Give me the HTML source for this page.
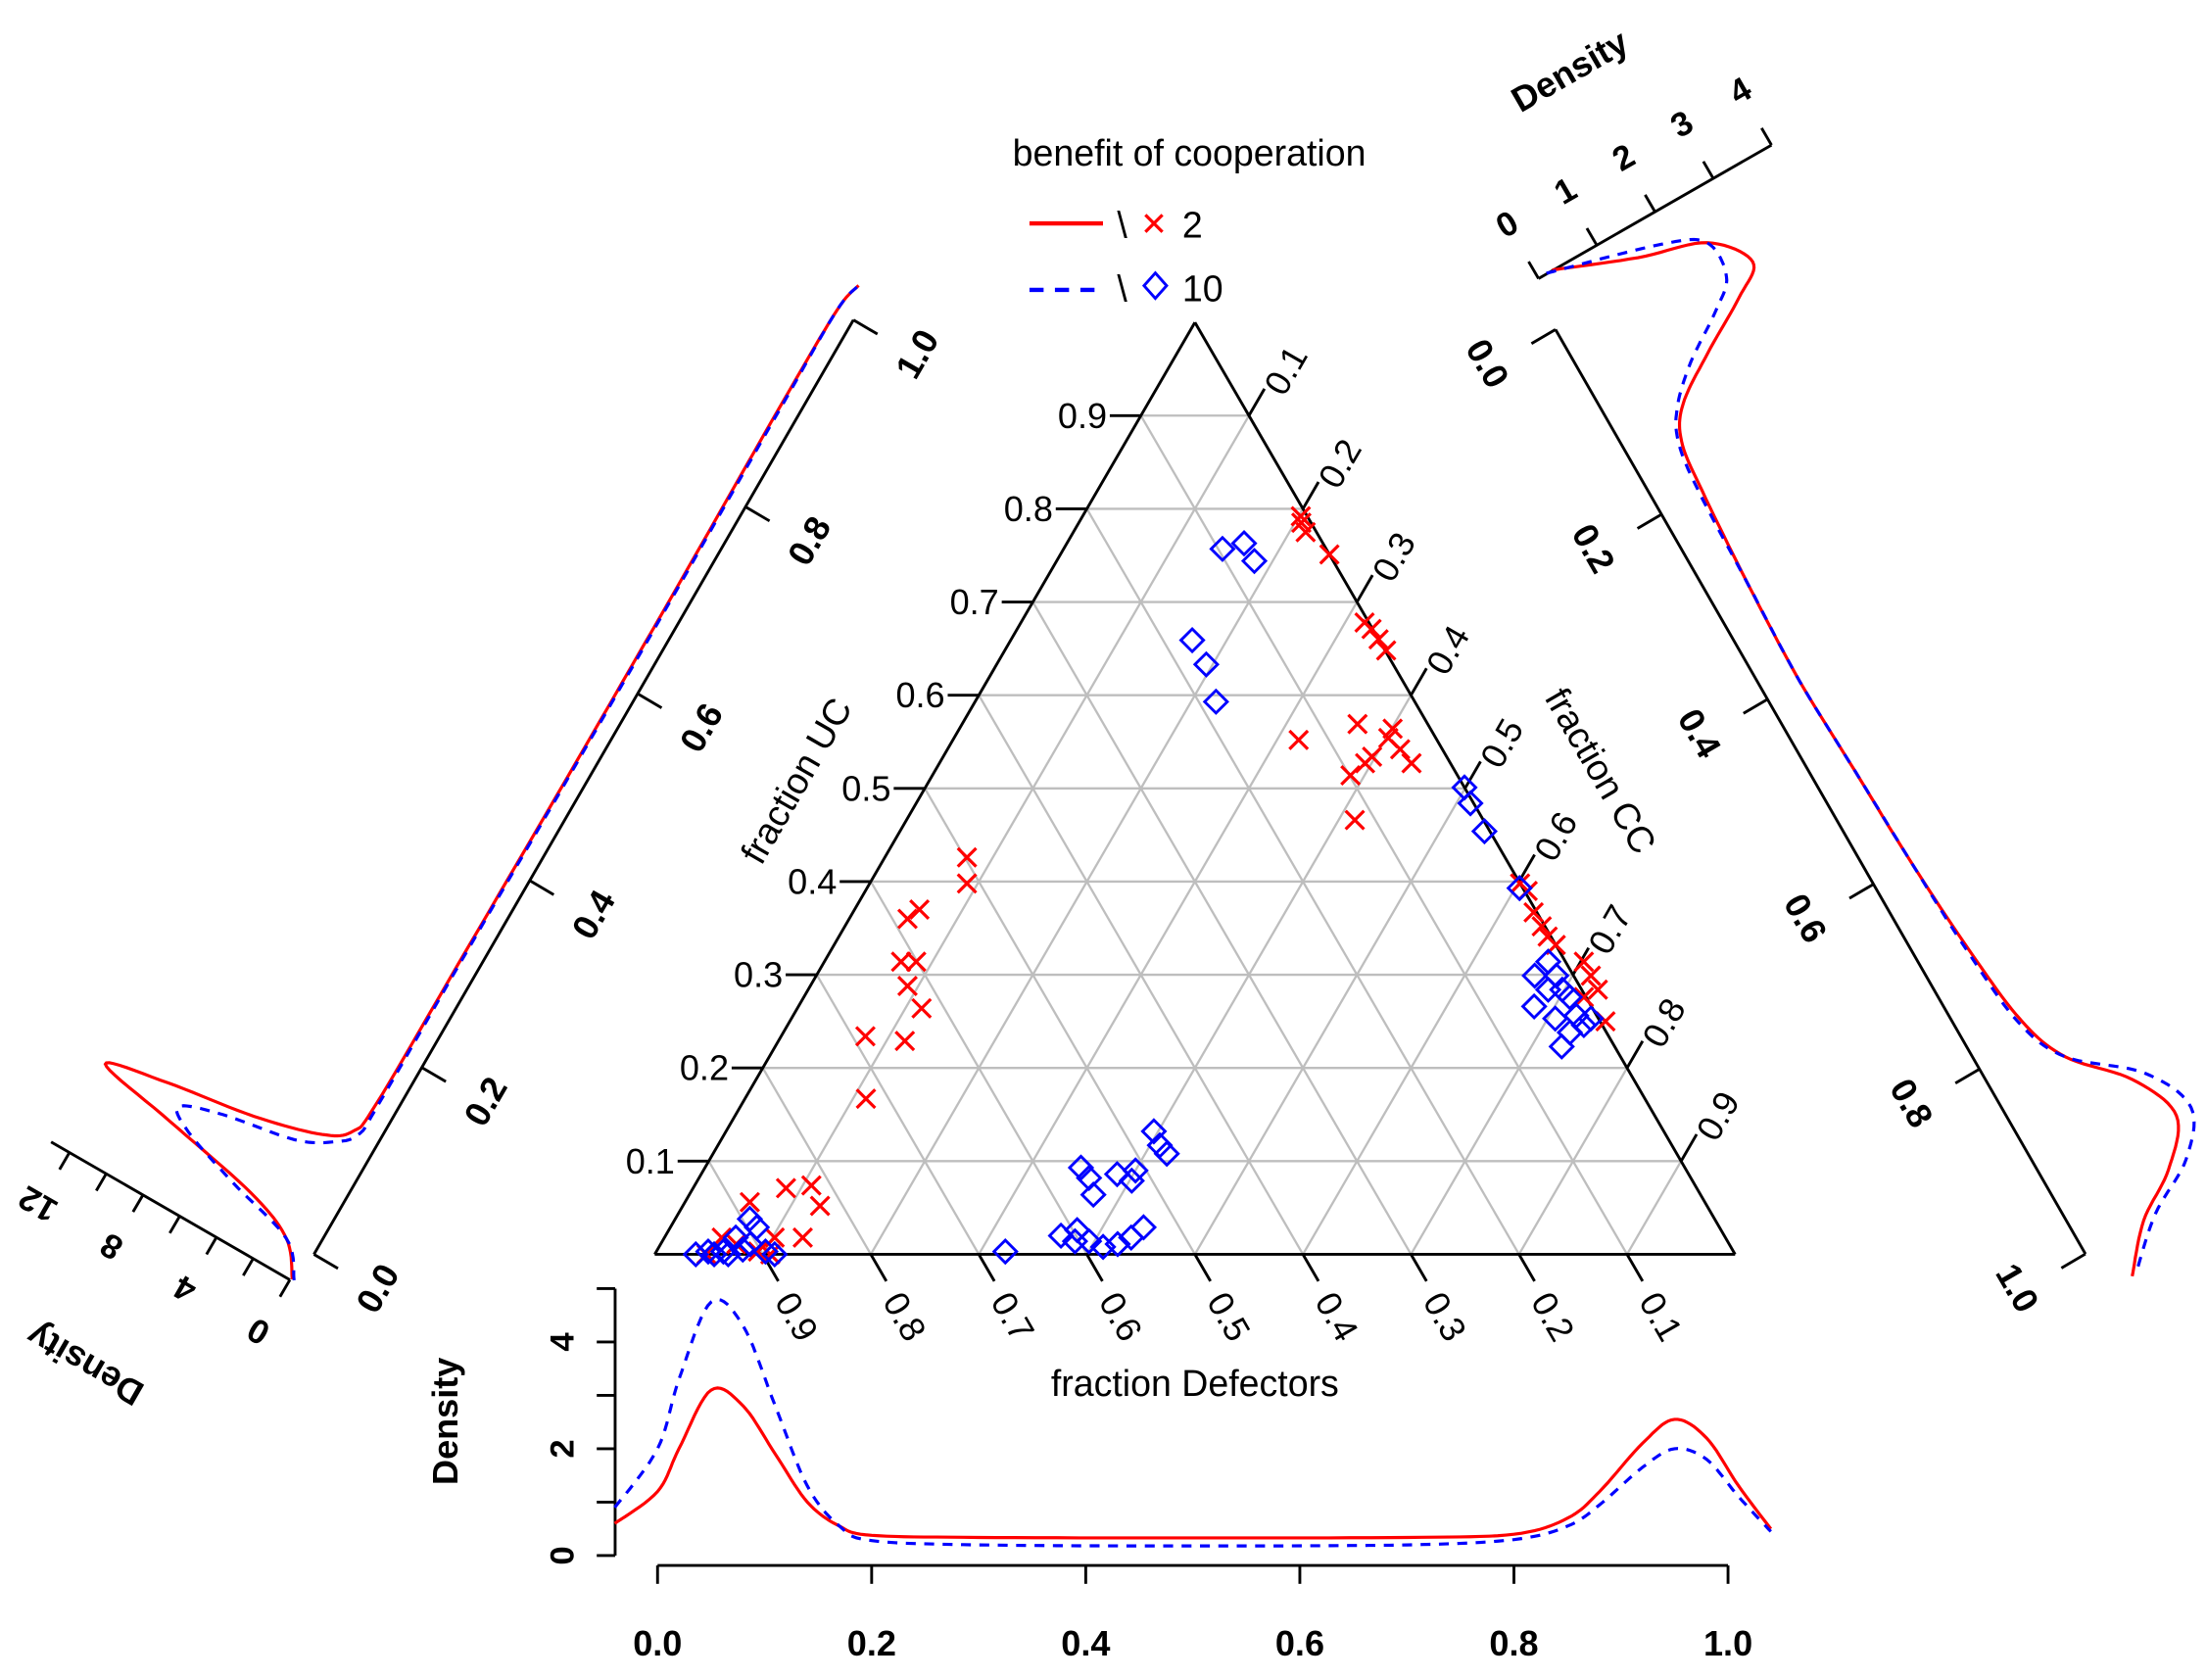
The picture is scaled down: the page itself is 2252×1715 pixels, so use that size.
<!DOCTYPE html>
<html><head><meta charset="utf-8">
<style>html,body{margin:0;padding:0;background:#fff}svg{display:block}text{font-family:"Liberation Sans",sans-serif}</style>
</head><body>
<svg id="chart" width="2252" height="1715" viewBox="0 0 1560 1188" xmlns="http://www.w3.org/2000/svg">
<rect width="1560" height="1188" fill="#fff"/>
<g id="grid"></g>
<g id="frame"></g>
<g id="marks"></g>
<g id="dens"></g>
<g id="legend">
<text x="841" y="117" font-size="26" text-anchor="middle">benefit of cooperation</text>
<line x1="728" y1="158" x2="780" y2="158" stroke="#f00" stroke-width="3"/>
<text x="790" y="168" font-size="26">\</text>
<path d="M810,152L822,164M810,164L822,152" stroke="#f00" stroke-width="2.2" fill="none"/>
<text x="836" y="168" font-size="26">2</text>
<line x1="728" y1="205" x2="780" y2="205" stroke="#00f" stroke-width="3" stroke-dasharray="10,8"/>
<text x="790" y="213" font-size="26">\</text>
<path d="M817,193 L825,202 L817,211 L809,202 Z" fill="none" stroke="#00f" stroke-width="2"/>
<text x="836" y="213" font-size="26">10</text>
</g>
</svg>
<script>
// ---- data ----
const ticks = [0.1,0.2,0.3,0.4,0.5,0.6,0.7,0.8,0.9];
const redUC = [0.792,0.785,0.775,0.751,0.678,0.671,0.660,0.648,0.552,0.569,0.564,0.554,0.542,0.534,0.527,0.514,0.527,0.466,
 0.398,0.390,0.367,0.352,0.341,0.332,0.314,0.299,0.284,0.250,0.276,
 0.426,0.398,0.360,0.370,0.314,0.314,0.288,0.264,0.234,0.229,0.167,0.074,0.071,0.052,0.018,0.056,0.018,0.018,0.011,0.003,0.0,0.0];
const redCC = [0.202,0.206,0.215,0.249,0.318,0.328,0.340,0.353,0.320,0.366,0.401,0.402,0.419,0.397,0.394,0.387,0.437,0.415,
 0.602,0.613,0.630,0.645,0.656,0.668,0.703,0.717,0.731,0.755,0.722,
 0.076,0.090,0.054,0.060,0.071,0.085,0.090,0.115,0.078,0.117,0.112,0.108,0.086,0.127,0.128,0.060,0.053,0.102,0.070,0.094,0.048,0.107];
const blueUC = [0.757,0.763,0.744,0.659,0.633,0.593,0.501,0.484,0.454,0.393,0.299,0.314,0.299,0.284,0.276,0.266,0.253,0.238,0.223,0.256,0.246,0.253,0.284,
 0.093,0.082,0.064,0.086,0.079,0.090,0.132,0.117,0.108,0.003,0.020,0.026,0.014,0.008,0.011,0.018,0.029,0.014,
 0.0,0.0,0.0,0.005,0.029,0.038,0.018,0.003,0.0,0.003,0.003,0.011];
const blueCC = [0.147,0.164,0.183,0.168,0.194,0.223,0.499,0.513,0.541,0.604,0.665,0.670,0.685,0.698,0.709,0.681,0.707,0.728,0.728,0.725,0.737,0.740,0.685,
 0.348,0.361,0.374,0.385,0.402,0.400,0.396,0.409,0.420,0.323,0.366,0.378,0.395,0.411,0.423,0.432,0.438,0.382,
 0.038,0.055,0.068,0.079,0.080,0.069,0.066,0.101,0.111,0.062,0.048,0.083];
// bottom density (fraction Defectors)
const dX = [-0.04,0,0.02,0.05,0.08,0.11,0.14,0.17,0.2,0.3,0.5,0.7,0.8,0.85,0.88,0.92,0.95,0.98,1.01,1.04];
const dRed = [0.6,1.2,2.0,3.1,2.8,1.9,1.0,0.55,0.38,0.34,0.33,0.34,0.4,0.7,1.2,2.1,2.55,2.2,1.3,0.5];
const dBlue = [0.9,2.0,3.3,4.75,4.3,2.8,1.3,0.55,0.28,0.2,0.18,0.2,0.3,0.55,0.95,1.65,2.0,1.8,1.1,0.45];
// left density (fraction UC)
const uX = [-0.03,0,0.02,0.04,0.056,0.07,0.083,0.1,0.117,0.15,0.3,0.5,0.7,0.9,1.0,1.03];
const uRed = [0.3,1.5,4,9,13,10,5.7,2.5,1.3,1.0,0.95,0.9,0.9,0.95,0.9,0.6];
const uBlue = [0.2,1.5,5,8,9,7,3.5,1.8,1.0,0.9,0.9,0.85,0.85,0.9,0.9,0.6];
// right density (fraction CC)
const cX = [-0.05,-0.02,0,0.037,0.06,0.09,0.12,0.15,0.2,0.3,0.4,0.5,0.6,0.7,0.78,0.83,0.88,0.93,0.97,1.0,1.04];
const cRed = [0.4,1.6,2.6,3.05,2.6,1.8,1.1,0.8,0.7,0.6,0.55,0.6,0.65,0.75,0.9,1.2,1.9,2.2,1.7,1.0,0.44];
const cBlue = [0.3,2.0,2.6,2.6,2.2,1.5,1.0,0.75,0.65,0.6,0.55,0.6,0.65,0.72,0.85,1.2,2.1,2.45,2.0,1.2,0.5];

// ---- geometry ----
const NS='http://www.w3.org/2000/svg';
const BL=[463,887], BR=[1227,887], AP=[845,228];
function tern(uc, cc){ const d=1-uc-cc; return [d*BL[0]+uc*AP[0]+cc*BR[0], d*BL[1]+uc*AP[1]+cc*BR[1]]; }
function mk(tag, attrs, parent){ const e=document.createElementNS(NS,tag); for(const k in attrs) e.setAttribute(k,attrs[k]); parent.appendChild(e); return e; }
const G=document.getElementById('grid'), F=document.getElementById('frame'), M=document.getElementById('marks'), D=document.getElementById('dens');
function line(p,q,stroke,w,parent,name){ const e=mk('line',{x1:p[0],y1:p[1],x2:q[0],y2:q[1],stroke:stroke,'stroke-width':w},parent);
 
  return e; }
function txt(s,x,y,size,rot,anchor,weight,parent,name){ const e=mk('text',{x:x,y:y,'font-size':size,'text-anchor':anchor||'middle','dominant-baseline':'central','font-weight':weight||'normal',transform:rot?`rotate(${rot} ${x} ${y})`:''},parent); e.textContent=s;
 
  return e; }

// grid
ticks.forEach(t=>{
  line(tern(t,0),tern(t,1-t),'#bebebe',1.6,G,'grid-uc');
  line(tern(0,t),tern(1-t,t),'#bebebe',1.6,G,'grid-cc');
  line(tern(0,1-t),tern(1-t,0),'#bebebe',1.6,G,'grid-d');
});
// frame
line(BL,BR,'#000',2,F,'triangle-bottom'); line(BL,AP,'#000',2,F,'triangle-left'); line(AP,BR,'#000',2,F,'triangle-right');
ticks.forEach(t=>{
  const p=tern(t,0); line(p,[p[0]-22,p[1]],'#000',2,F,'uc-tick');
  txt(t.toFixed(1),p[0]-24,p[1],25,0,'end','normal',F,'uc-tick-label');
  const q=tern(1-t,t); const q2=[q[0]+11,q[1]-19]; line(q,q2,'#000',2,F,'cc-tick');
  txt(t.toFixed(1),q[0]+26,q[1]-32,25,-60,'middle','normal',F,'cc-tick-label');
  const r=tern(0,1-t); const r2=[r[0]+11,r[1]+19]; line(r,r2,'#000',2,F,'d-tick');
  txt(t.toFixed(1),r[0]+24,r[1]+44,25,60,'middle','normal',F,'d-tick-label');
});
txt('fraction UC',563,552,26,-60,'middle','normal',F,'uc-axis-title');
txt('fraction CC',1132,545,26,60,'middle','normal',F,'cc-axis-title');
txt('fraction Defectors',845,978,26,0,'middle','normal',F,'d-axis-title');

// points
redUC.forEach((u,i)=>{ const p=tern(u,redCC[i]); const s=6.5;
  const e=mk('path',{d:`M${p[0]-s},${p[1]-s}L${p[0]+s},${p[1]+s}M${p[0]-s},${p[1]+s}L${p[0]+s},${p[1]-s}`,stroke:'#f00','stroke-width':2.2,fill:'none'},M);
  
  
});
blueUC.forEach((u,i)=>{ const p=tern(u,blueCC[i]); const s=8;
  const e=mk('path',{d:`M${p[0]},${p[1]-s}L${p[0]+s},${p[1]}L${p[0]},${p[1]+s}L${p[0]-s},${p[1]}Z`,stroke:'#00f','stroke-width':2,fill:'none'},M);
  
  
});

function curve(pts,color,dash,name){ const e=mk('path',{d:'M'+pts.map(p=>p[0].toFixed(1)+','+p[1].toFixed(1)).join('L'),fill:'none',stroke:color,'stroke-width':2.2,'stroke-dasharray':dash||'none'},D);
  
   }
function smooth(xs,ys,n){
  const out=[]; for(let i=0;i<xs.length-1;i++){ const i0=Math.max(0,i-1),i3=Math.min(xs.length-1,i+2);
   for(let k=0;k<n;k++){ const t=k/n; const f=(a)=>{const p0=a[i0],p1=a[i],p2=a[i+1],p3=a[i3];
     return 0.5*((2*p1)+(-p0+p2)*t+(2*p0-5*p1+4*p2-p3)*t*t+(-p0+3*p1-3*p2+p3)*t*t*t);};
     out.push([f(xs),f(ys)]); } }
  out.push([xs[xs.length-1],ys[ys.length-1]]); return out; }

// bottom density panel
const bx=v=>465+v*757, by=v=>1100-v*37.75;
line([bx(0),1107],[bx(1),1107],'#000',2,D,'bottom-x-axis');
[0,0.2,0.4,0.6,0.8,1].forEach(v=>{ line([bx(v),1107],[bx(v),1120],'#000',2,D,'bottom-x-tick'); txt(v.toFixed(1),bx(v),1162,25,0,'middle','bold',D,'bottom-x-tick-label'); });
line([435,by(0)],[435,by(5)],'#000',2,D,'bottom-density-axis');
[0,1,2,3,4,5].forEach(v=>line([435,by(v)],[422,by(v)],'#000',2,D,'bottom-density-tick'));
[0,2,4].forEach(v=>txt(String(v),398,by(v),24,-90,'middle','bold',D,'bottom-density-tick-label'));
txt('Density',315,1005,25,-90,'middle','bold',D,'bottom-density-title');
curve(smooth(dX,dRed,10).map(p=>[bx(p[0]),by(p[1])]),'#f00','','bottom-density-2');
curve(smooth(dX,dBlue,10).map(p=>[bx(p[0]),by(p[1])]),'#00f','7,6','bottom-density-10');

// left density panel (UC)
const L0=[222,887], Ld=[0.5,-0.866], Llen=763, Lp=[-0.866,-0.5], Ls=15;
const lp=(u,dd)=>[L0[0]+Ld[0]*u*Llen+Lp[0]*dd*Ls, L0[1]+Ld[1]*u*Llen+Lp[1]*dd*Ls];
line(lp(0,0),lp(1,0),'#000',2,D,'left-uc-axis');
[0,0.2,0.4,0.6,0.8,1].forEach(v=>{ const p=lp(v,0); line(p,[p[0]+17,p[1]+10],'#000',2,D,'left-uc-tick');
  txt(v.toFixed(1),p[0]+45,p[1]+24,25,-60,'middle','bold',D,'left-uc-tick-label'); });
const ls0=[205,905];
const lsp=v=>[ls0[0]+Lp[0]*v*Ls, ls0[1]+Lp[1]*v*Ls];
line(lsp(0),lsp(13),'#000',2,D,'left-density-axis');
[0,2,4,6,8,10,12].forEach(v=>{ const p=lsp(v); line(p,[p[0]-7,p[1]+12],'#000',2,D,'left-density-tick'); });
[0,4,8,12].forEach(v=>{ const p=lsp(v); txt(String(v),p[0]-22,p[1]+36,24,210,'middle','bold',D,'left-density-tick-label'); });
txt('Density',60,965,25,210,'middle','bold',D,'left-density-title');
curve(smooth(uX,uRed,10).map(p=>lp(p[0],p[1])),'#f00','','left-density-2');
curve(smooth(uX,uBlue,10).map(p=>lp(p[0],p[1])),'#00f','7,6','left-density-10');

// right density panel (CC)
const R0=[1100,233], Rd=[0.497,0.867], Rlen=754, Rp=[0.867,-0.497], Rs=47.5;
const rp=(c,dd)=>[R0[0]+Rd[0]*c*Rlen+Rp[0]*dd*Rs, R0[1]+Rd[1]*c*Rlen+Rp[1]*dd*Rs];
line(rp(0,0),rp(1,0),'#000',2,D,'right-cc-axis');
[0,0.2,0.4,0.6,0.8,1].forEach(v=>{ const p=rp(v,0); line(p,[p[0]-17,p[1]+10],'#000',2,D,'right-cc-tick');
  txt(v.toFixed(1),p[0]-48,p[1]+24,25,60,'middle','bold',D,'right-cc-tick-label'); });
const rs0=[1088,197];
const rsp=v=>[rs0[0]+Rp[0]*v*Rs, rs0[1]+Rp[1]*v*Rs];
line(rsp(0),rsp(4),'#000',2,D,'right-density-axis');
[0,1,2,3,4].forEach(v=>{ const p=rsp(v); line(p,[p[0]-7,p[1]-12],'#000',2,D,'right-density-tick');
  txt(String(v),p[0]-22,p[1]-38,24,-30,'middle','bold',D,'right-density-tick-label'); });
txt('Density',1110,50,25,-30,'middle','bold',D,'right-density-title');
curve(smooth(cX,cRed,10).map(p=>rp(p[0],p[1])),'#f00','','right-density-2');
curve(smooth(cX,cBlue,10).map(p=>rp(p[0],p[1])),'#00f','7,6','right-density-10');
</script>
</body></html>
